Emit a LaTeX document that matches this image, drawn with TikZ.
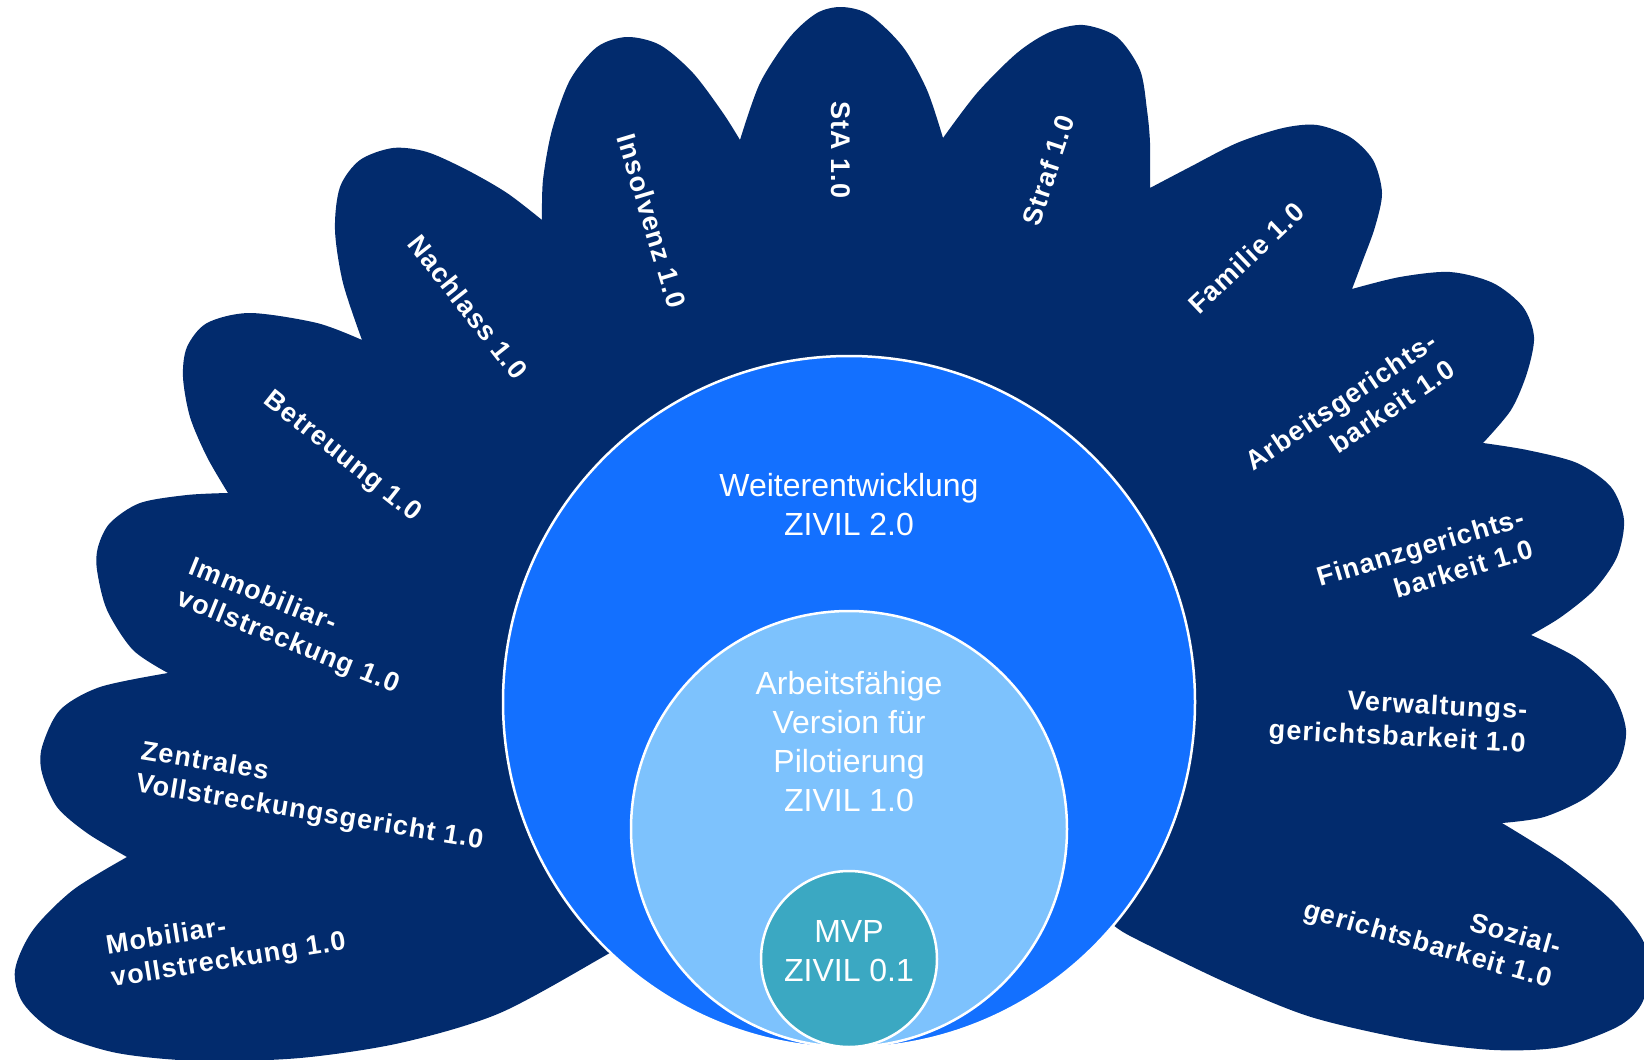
\documentclass[tikz,border=0pt]{standalone}
\usepackage{fontspec}
\setmainfont{Liberation Sans}
\newfontfamily\petalfont[LetterSpace=4]{Liberation Sans}
\definecolor{navy}{HTML}{022B6D}
\definecolor{bigblue}{HTML}{1370FF}
\definecolor{lightblue}{HTML}{7DC2FD}
\definecolor{teal}{HTML}{3BA8C2}
\begin{document}
\begin{tikzpicture}[x=1pt,y=-1pt,
  petal/.style={text=white, font=\petalfont\bfseries\fontsize{27}{33}\selectfont, inner sep=0pt},
  circtext/.style={text=white, font=\fontsize{32}{39}\selectfont, align=center, inner sep=0pt},
  ring/.style={circle, draw=white, line width=2.5pt, inner sep=0pt}]
\clip (0,0) rectangle (1644,1060);
% petals (union outline)
\fill[navy] (849,702) -- (640,935)
 -- plot[smooth] coordinates {(640,935) (608,954) (500,1013) (400,1043) (300,1058) (200,1061) (117,1053) (57,1033) (23,1003) (15,970) (33,930) (73,890) (127,857)}
 -- plot[smooth] coordinates {(127,857) (87,833) (57,807) (42,773) (42,747) (60,710) (100,687) (168,673)}
 -- plot[smooth] coordinates {(168,673) (133,650) (107,610) (97,570) (98,547) (110,523) (140,503) (187,495) (228,493)}
 -- plot[smooth] coordinates {(228,493) (207,457) (190,417) (183,377) (187,347) (207,323) (250,313) (317,323) (362,340)}
 -- plot[smooth] coordinates {(362,340) (343,283) (335,230) (340,187) (360,160) (393,148) (427,152) (467,170) (507,193) (542,220)}
 -- plot[smooth] coordinates {(542,220) (543,180) (552,130) (570,80) (597,47) (627,37) (660,45) (693,73) (723,113) (740,140)}
 -- plot[smooth] coordinates {(740,140) (760,83) (790,37) (817,13) (842,7) (870,15) (903,47) (927,90) (943,138)}
 -- plot[smooth] coordinates {(943,138) (977,93) (1017,53) (1050,32) (1083,25) (1117,37) (1140,70) (1147,110) (1150,143) (1150,188)}
 -- plot[smooth] coordinates {(1150,188) (1190,167) (1237,143) (1283,128) (1317,125) (1350,137) (1373,160) (1382,193) (1375,227) (1363,260) (1352,289)}
 -- plot[smooth] coordinates {(1352,289) (1400,277) (1450,272) (1493,283) (1523,307) (1534,337) (1527,373) (1511,410) (1483,443)}
 -- plot[smooth] coordinates {(1483,443) (1527,450) (1577,463) (1611,487) (1624,520) (1617,557) (1594,590) (1561,617) (1531,635)}
 -- plot[smooth] coordinates {(1531,635) (1577,658) (1611,690) (1626,730) (1617,767) (1587,797) (1544,817) (1502,823)}
 -- plot[smooth] coordinates {(1502,823) (1561,860) (1611,900) (1641,937) (1651,968) (1641,1005) (1617,1027) (1561,1047) (1494,1050) (1411,1040) (1311,1017) (1227,983) (1144,943) (1117,928) (1090,905)}
 -- cycle;
% circles
\node[ring, fill=bigblue, minimum size=692pt] (weiter) at (849,702) {};
\node[ring, fill=lightblue, minimum size=436pt] (pilot) at (849,829) {};
\node[ring, fill=teal, minimum size=176pt] (mvp) at (849,959) {};
% circle texts
\node[circtext] (tweiter) at (849,505) {Weiterentwicklung\\ZIVIL 2.0};
\node[circtext] (tpilot) at (849,742) {Arbeitsfähige\\Version für\\Pilotierung\\ZIVIL 1.0};
\node[circtext] (tmvp) at (849,951) {MVP\\ZIVIL 0.1};
% petal labels
\node[petal, rotate=9, align=left] (lmob) at (226,945) {Mobiliar-\\vollstreckung 1.0};
\node[petal, rotate=-9.3, align=left] (lzen) at (312,797) {Zentrales\\Vollstreckungsgericht 1.0};
\node[petal, rotate=-22, align=left] (limm) at (294,627) {Immobiliar-\\vollstreckung 1.0};
\node[petal, rotate=-38.4] (lbet) at (342,457) {Betreuung 1.0};
\node[petal, rotate=-51.7] (lnach) at (468,307) {Nachlass 1.0};
\node[petal, rotate=-73.2] (lins) at (652,221) {Insolvenz 1.0};
\node[petal, rotate=-90] (lsta) at (841,150) {StA 1.0};
\node[petal, rotate=71.6] (lstraf) at (1048,170) {Straf 1.0};
\node[petal, rotate=43.6] (lfam) at (1246,258) {Familie 1.0};
\node[petal, rotate=34, align=right] (larb) at (1350,415) {Arbeitsgerichts-\\barkeit 1.0};
\node[petal, rotate=16.5, align=right] (lfin) at (1425,563) {Finanzgerichts-\\barkeit 1.0};
\node[petal, rotate=-3, align=right] (lverw) at (1398,722) {Verwaltungs-\\gerichtsbarkeit 1.0};
\node[petal, rotate=-16, align=right] (lsoz) at (1432,930) {Sozial-\\gerichtsbarkeit 1.0};
\end{tikzpicture}
\end{document}
